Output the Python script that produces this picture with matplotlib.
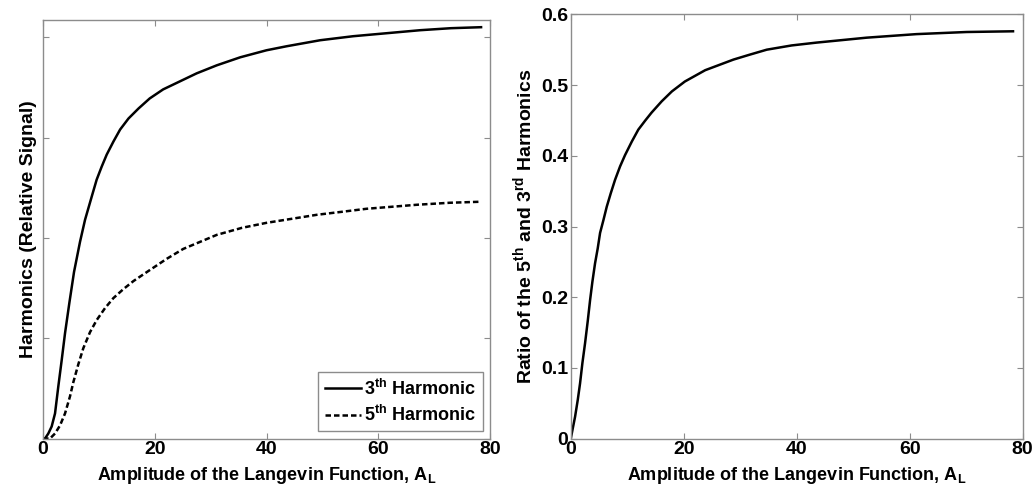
import matplotlib
matplotlib.use("Agg")
import matplotlib.pyplot as plt

# ----------------- Data -----------------

# Left panel: 3rd harmonic (solid)
h3_x = [0.0, 0.36, 0.95, 1.55, 2.15, 2.74, 3.34, 3.94, 4.71, 5.55, 6.62, 7.52, 8.71,
        9.6, 10.5, 11.4, 12.6, 13.8, 15.3, 17.1, 19.1, 21.5, 24.5, 27.5, 31.1, 35.3,
        40.0, 43.6, 49.6, 55.5, 61.5, 67.5, 73.0, 78.4]
h3_y = [0.0, 0.0, 0.05, 0.12, 0.25, 0.52, 0.78, 1.05, 1.35, 1.66, 1.96, 2.18, 2.41,
        2.58, 2.71, 2.83, 2.96, 3.08, 3.19, 3.29, 3.39, 3.48, 3.56, 3.64, 3.72, 3.80,
        3.87, 3.91, 3.97, 4.01, 4.04, 4.07, 4.09, 4.10]

# Left panel: 5th harmonic (dashed)
h5_x = [0.0, 1.25, 2.15, 3.04, 3.94, 4.83, 5.42, 6.32, 7.21, 8.41, 9.6, 11.1, 12.6,
        14.4, 16.2, 18.6, 22.1, 25.1, 28.1, 31.1, 35.6, 40.0, 44.5, 49.0, 53.5, 57.9,
        62.4, 66.9, 72.8, 78.2]
h5_y = [0.0, 0.0, 0.05, 0.13, 0.25, 0.42, 0.56, 0.74, 0.90, 1.06, 1.18, 1.30, 1.40,
        1.49, 1.57, 1.66, 1.79, 1.89, 1.96, 2.03, 2.10, 2.15, 2.19, 2.23, 2.26, 2.29,
        2.31, 2.33, 2.35, 2.36]

# Right panel: ratio 5th / 3rd
ratio_x = [0.0, 0.29, 0.76, 1.24, 1.64, 2.06, 2.53, 3.0, 3.42, 3.83, 4.3, 4.77, 5.19,
           5.78, 6.37, 7.08, 7.84, 8.73, 9.61, 10.8, 11.96, 13.2, 14.3, 16.1, 17.9,
           20.2, 23.8, 28.8, 31.7, 34.7, 39.1, 43.5, 52.4, 61.2, 70.1, 78.3]
ratio_y = [0.0, 0.012, 0.031, 0.055, 0.078, 0.107, 0.135, 0.166, 0.196, 0.222, 0.248,
           0.269, 0.291, 0.309, 0.328, 0.347, 0.366, 0.385, 0.401, 0.420, 0.437, 0.450,
           0.461, 0.477, 0.491, 0.505, 0.521, 0.536, 0.543, 0.550, 0.556, 0.560, 0.567,
           0.572, 0.575, 0.576]

x_ticks = [0, 20, 40, 60, 80]
left_y_ticks = [0, 1, 2, 3, 4]
right_y_ticks = [0, 0.1, 0.2, 0.3, 0.4, 0.5, 0.6]
right_y_labels = ["0", "0.1", "0.2", "0.3", "0.4", "0.5", "0.6"]

# ----------------- Style -----------------

plt.rcParams["font.family"] = ["Liberation Sans", "DejaVu Sans"]
plt.rcParams["font.weight"] = "bold"
plt.rcParams["mathtext.fontset"] = "custom"
plt.rcParams["mathtext.rm"] = "Liberation Sans:bold"
plt.rcParams["mathtext.bf"] = "Liberation Sans:bold"
plt.rcParams["mathtext.default"] = "rm"

SPINE = "#8c8c8c"
FS = 13
TICK_FS = 14
YLAB_FS = 14


def style_axes(ax):
    for s in ax.spines.values():
        s.set_color(SPINE)
        s.set_linewidth(1.0)
    ax.tick_params(direction="in", which="both", top=True, right=True,
                   color=SPINE, length=4, labelsize=TICK_FS, width=0.8, pad=2)
    for lab in ax.get_xticklabels() + ax.get_yticklabels():
        lab.set_fontweight("bold")


fig = plt.figure(figsize=(10.34, 4.92), dpi=100)
ax1 = fig.add_axes([0.0416, 0.1087, 0.4323, 0.8503])
ax2 = fig.add_axes([0.552, 0.1083, 0.437, 0.8626])

# ----------------- Left panel -----------------

ax1.plot(h3_x, h3_y, color="black", lw=1.8, solid_joinstyle="round",
         label=r"3$^{th}$ Harmonic")
ax1.plot(h5_x, h5_y, color="black", lw=1.8, ls=(0, (2.2, 1.2)),
         label=r"5$^{th}$ Harmonic")
ax1.set_xlim(0, 80)
ax1.set_ylim(0, 4.17)
ax1.set_xticks(x_ticks)
ax1.set_yticks(left_y_ticks)
ax1.set_yticklabels([])
ax1.set_xlabel(r"Amplitude of the Langevin Function, A$_{\rm L}$", fontsize=FS,
               fontweight="bold", labelpad=5)
ax1.set_ylabel("Harmonics (Relative Signal)", fontsize=YLAB_FS, fontweight="bold",
               labelpad=2)
style_axes(ax1)
leg = ax1.legend(loc="lower right", fontsize=FS, handlelength=2.0, handletextpad=0.2,
                 borderpad=0.35, labelspacing=0.35, fancybox=False, framealpha=1,
                 borderaxespad=0.4)
leg.get_frame().set_edgecolor(SPINE)
leg.get_frame().set_linewidth(1.0)

# ----------------- Right panel -----------------

ax2.plot(ratio_x, ratio_y, color="black", lw=1.8, solid_joinstyle="round")
ax2.set_xlim(0, 80)
ax2.set_ylim(0, 0.6)
ax2.set_xticks(x_ticks)
ax2.set_yticks(right_y_ticks)
ax2.set_yticklabels(right_y_labels)
ax2.set_xlabel(r"Amplitude of the Langevin Function, A$_{\rm L}$", fontsize=FS,
               fontweight="bold", labelpad=5)
ax2.set_ylabel(r"Ratio of the 5$^{th}$ and 3$^{rd}$ Harmonics", fontsize=YLAB_FS,
               fontweight="bold", labelpad=4)
style_axes(ax2)

fig.savefig("out.png", dpi=100)
plt.close(fig)
